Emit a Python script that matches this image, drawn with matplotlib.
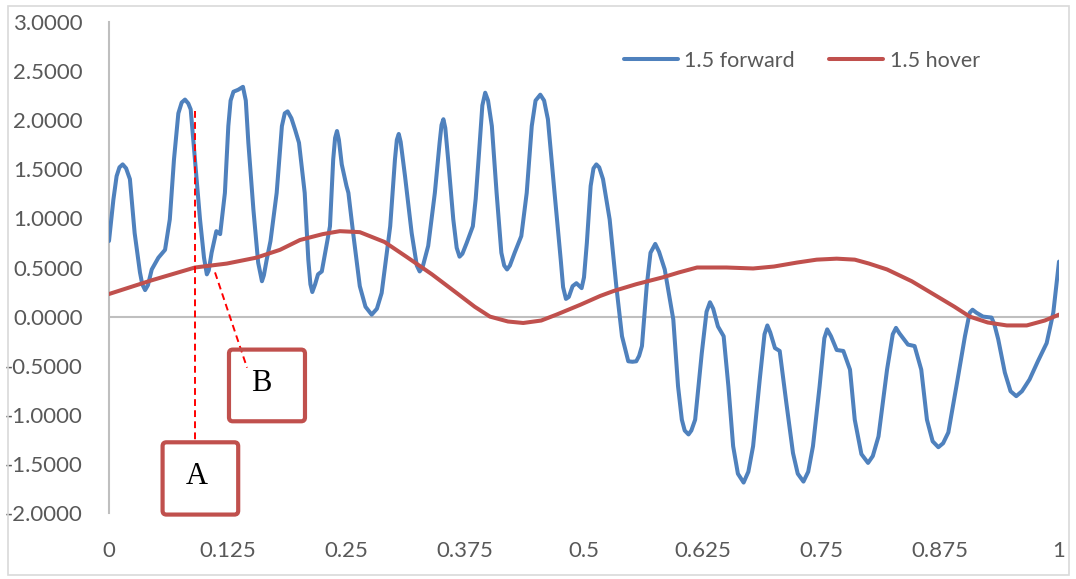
import matplotlib
matplotlib.use("Agg")
import matplotlib.pyplot as plt
from matplotlib.patches import Rectangle, FancyBboxPatch

# ---------------- data ----------------
fwd_x = [0.000, 0.0046, 0.008, 0.011, 0.0144, 0.018, 0.022, 0.027, 0.0326, 0.035, 0.038, 0.041,
         0.045, 0.052, 0.059, 0.064, 0.0684, 0.073, 0.0765, 0.080, 0.0835, 0.086, 0.0905, 0.0958,
         0.100, 0.103, 0.105, 0.108, 0.113, 0.117, 0.122, 0.1256, 0.128, 0.131, 0.136, 0.141,
         0.144, 0.1467, 0.152, 0.157, 0.161, 0.163, 0.166, 0.170, 0.1765, 0.182, 0.185, 0.188,
         0.192, 0.196, 0.200, 0.206, 0.2098, 0.212, 0.214, 0.217, 0.220, 0.224, 0.2326, 0.236,
         0.238, 0.240, 0.242, 0.245, 0.250, 0.252, 0.257, 0.264, 0.270, 0.2765, 0.282, 0.287,
         0.296, 0.301, 0.303, 0.305, 0.307, 0.3116, 0.3186, 0.324, 0.327, 0.330, 0.336, 0.343,
         0.348, 0.350, 0.352, 0.354, 0.357, 0.3624, 0.366, 0.369, 0.372, 0.3765, 0.383, 0.386,
         0.389, 0.393, 0.396, 0.399, 0.403, 0.408, 0.413, 0.416, 0.419, 0.422, 0.427, 0.434,
         0.4397, 0.445, 0.449, 0.454, 0.458, 0.462, 0.469, 0.4755, 0.478, 0.481, 0.484, 0.488,
         0.492, 0.4975, 0.500, 0.503, 0.507, 0.510, 0.513, 0.516, 0.520, 0.527, 0.534, 0.540,
         0.5466, 0.551, 0.555, 0.558, 0.561, 0.566, 0.570, 0.575, 0.579, 0.585, 0.594, 0.599,
         0.603, 0.606, 0.610, 0.613, 0.617, 0.624, 0.629, 0.6326, 0.636, 0.641, 0.647, 0.652,
         0.657, 0.662, 0.668, 0.673, 0.678, 0.685, 0.690, 0.693, 0.696, 0.701, 0.706, 0.713,
         0.720, 0.725, 0.731, 0.736, 0.741, 0.748, 0.753, 0.756, 0.760, 0.766, 0.773, 0.780,
         0.785, 0.792, 0.799, 0.804, 0.810, 0.819, 0.825, 0.8284, 0.832, 0.841, 0.848, 0.855,
         0.861, 0.867, 0.873, 0.878, 0.8835, 0.892, 0.901, 0.906, 0.909, 0.913, 0.920, 0.929,
         0.932, 0.936, 0.943, 0.949, 0.955, 0.961, 0.969, 0.978, 0.987, 0.994, 1.000]
fwd_y = [0.77, 1.19, 1.43, 1.52, 1.55, 1.51, 1.40, 0.85, 0.45, 0.33, 0.27, 0.32,
         0.48, 0.60, 0.68, 0.99, 1.60, 2.07, 2.18, 2.21, 2.17, 2.11, 1.60, 0.99,
         0.60, 0.43, 0.47, 0.65, 0.87, 0.84, 1.26, 1.94, 2.20, 2.29, 2.31, 2.34,
         2.20, 1.77, 1.09, 0.55, 0.36, 0.42, 0.58, 0.77, 1.26, 1.94, 2.07, 2.09,
         2.02, 1.90, 1.77, 1.26, 0.58, 0.33, 0.25, 0.33, 0.43, 0.46, 0.92, 1.60,
         1.82, 1.89, 1.80, 1.55, 1.33, 1.26, 0.85, 0.31, 0.10, 0.02, 0.08, 0.24,
         0.92, 1.60, 1.80, 1.86, 1.78, 1.43, 0.85, 0.52, 0.46, 0.50, 0.72, 1.26,
         1.77, 1.95, 2.01, 1.92, 1.60, 0.99, 0.70, 0.61, 0.64, 0.75, 0.92, 1.20,
         1.60, 2.15, 2.28, 2.20, 1.94, 1.26, 0.65, 0.52, 0.48, 0.52, 0.65, 0.82,
         1.26, 1.94, 2.20, 2.26, 2.20, 2.01, 1.26, 0.58, 0.30, 0.18, 0.20, 0.31,
         0.34, 0.29, 0.40, 0.75, 1.33, 1.51, 1.55, 1.52, 1.40, 0.99, 0.31, -0.20,
         -0.455, -0.46, -0.455, -0.40, -0.30, 0.31, 0.65, 0.74, 0.66, 0.48, -0.03, -0.71,
         -1.05, -1.16, -1.20, -1.16, -1.05, -0.37, 0.05, 0.146, 0.08, -0.10, -0.20, -0.71,
         -1.32, -1.60, -1.69, -1.58, -1.32, -0.64, -0.18, -0.09, -0.16, -0.32, -0.35, -0.88,
         -1.39, -1.60, -1.68, -1.58, -1.32, -0.71, -0.22, -0.13, -0.20, -0.34, -0.35, -0.54,
         -1.05, -1.40, -1.49, -1.42, -1.22, -0.54, -0.18, -0.115, -0.17, -0.285, -0.30, -0.54,
         -1.05, -1.27, -1.33, -1.29, -1.18, -0.71, -0.20, 0.04, 0.07, 0.04, 0.00, -0.01,
         -0.08, -0.23, -0.57, -0.76, -0.81, -0.76, -0.64, -0.45, -0.27, 0.04, 0.56]

hov_x = [0.000, 0.045, 0.0905, 0.124, 0.155, 0.180, 0.201, 0.225, 0.243, 0.264, 0.290, 0.313,
         0.340, 0.366, 0.385, 0.401, 0.420, 0.436, 0.455, 0.471, 0.496, 0.517, 0.531, 0.555,
         0.583, 0.600, 0.619, 0.650, 0.678, 0.700, 0.724, 0.745, 0.766, 0.785, 0.800, 0.819,
         0.845, 0.871, 0.890, 0.906, 0.925, 0.945, 0.966, 0.985, 1.000]
hov_y = [0.23, 0.37, 0.50, 0.54, 0.60, 0.68, 0.78, 0.84, 0.87, 0.86, 0.76, 0.61,
         0.43, 0.24, 0.10, 0.00, -0.05, -0.065, -0.04, 0.02, 0.12, 0.21, 0.26, 0.33,
         0.40, 0.45, 0.50, 0.50, 0.49, 0.51, 0.55, 0.58, 0.59, 0.58, 0.54, 0.48,
         0.36, 0.21, 0.10, 0.00, -0.06, -0.09, -0.09, -0.04, 0.02]

series_labels = ["1.5 forward", "1.5 hover"]
x_ticks = [0, 0.125, 0.25, 0.375, 0.5, 0.625, 0.75, 0.875, 1]
x_ticklabels = ["0", "0.125", "0.25", "0.375", "0.5", "0.625", "0.75", "0.875", "1"]
y_ticks = [3.0, 2.5, 2.0, 1.5, 1.0, 0.5, 0.0, -0.5, -1.0, -1.5, -2.0]

# annotations (data coords)
ann_A_line = ([0.0905, 0.0905], [2.09, -1.28])
ann_B_line = ([0.1116, 0.1453], [0.45, -0.52])
box_A = (0.0564, -2.016, 0.0796, 0.736)   # x, y, w, h
box_B = (0.1263, -1.066, 0.0800, 0.730)
label_A = ("A", 0.0926, -1.63)
label_B = ("B", 0.1600, -0.68)

# ---------------- plot ----------------
plt.rcParams['font.family'] = ['Lato', 'DejaVu Sans']
fig = plt.figure(figsize=(10.76, 5.79), dpi=100)
ax = fig.add_axes([109/1076, 1-513/579, 950/1076, 491/579])

blue = "#4F81BD"
red = "#C0504D"
grey = "#BFBFBF"

ax.plot(fwd_x, fwd_y, color=blue, lw=2.9, solid_joinstyle='round', solid_capstyle='round',
        label=series_labels[0], zorder=3)
ax.plot(hov_x, hov_y, color=red, lw=2.9, solid_joinstyle='round', solid_capstyle='round',
        label=series_labels[1], zorder=4)

ax.set_xlim(0, 1)
ax.set_ylim(-2, 3)
ax.set_xticks(x_ticks)
ax.set_xticklabels(x_ticklabels)
ax.set_yticks(y_ticks)
ax.set_yticklabels([f"{v:.4f}" for v in y_ticks])
ax.tick_params(axis='both', length=0, labelsize=16, labelcolor="#595959")
ax.tick_params(axis='y', pad=19)
ax.tick_params(axis='x', pad=20)

for s in ['top', 'right', 'bottom']:
    ax.spines[s].set_visible(False)
ax.spines['left'].set_color(grey)
ax.spines['left'].set_linewidth(1.5)
ax.axhline(0, color=grey, lw=1.5, zorder=1)

# annotations
ax.plot(*ann_A_line, color="#FF0000", lw=1.4, ls=(0, (3.5, 2.2)), zorder=5, clip_on=False)
ax.plot(*ann_B_line, color="#FF0000", lw=1.4, ls=(0, (3.5, 2.2)), zorder=5, clip_on=False)
for (bx, by, bw, bh) in (box_A, box_B):
    ax.add_patch(FancyBboxPatch((bx, by), bw, bh, boxstyle="round,pad=0,rounding_size=0.004",
                                fill=False, ec=red, lw=3.0, clip_on=False, zorder=6,
                                mutation_aspect=10))
for (t, tx, ty) in (label_A, label_B):
    ax.text(tx, ty, t, fontsize=22, family='Liberation Serif', color='black',
            ha='center', va='center', zorder=7)

leg = ax.legend(loc='center left', bbox_to_anchor=(0.542, 0.9206), ncol=2, frameon=False,
                fontsize=15.5, handlelength=2.5, handletextpad=0.3, columnspacing=1.6,
                borderpad=0, borderaxespad=0)
for t in leg.get_texts():
    t.set_color("#595959")

fig.patches.append(Rectangle((8/1076, 1-575/579), 1061/1076, 569/579, transform=fig.transFigure,
                             fill=False, ec="#D9D9D9", lw=1.2))

fig.savefig("out.png", dpi=100)
